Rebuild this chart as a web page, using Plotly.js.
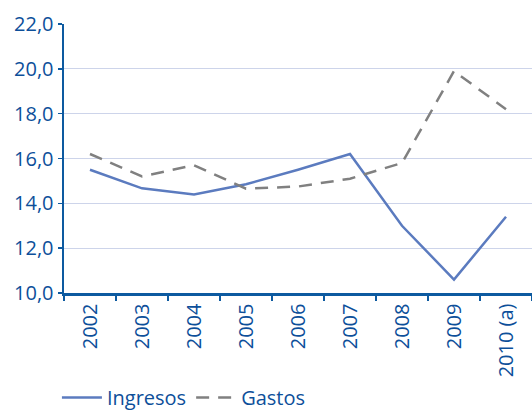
<!DOCTYPE html>
<html><head><meta charset="utf-8">
<script src="https://cdn.plot.ly/plotly-3.0.1.min.js"></script>
<style>html,body{margin:0;padding:0;background:#fff}#chart{width:532px;height:412px}</style>
</head><body><div id="chart"></div>
<script>
const years = ['2002','2003','2004','2005','2006','2007','2008','2009','2010 (a)'];
const ingresos = [15.5, 14.67, 14.4, 14.85, 15.5, 16.2, 13.0, 10.6, 13.4];
const gastos = [16.2, 15.2, 15.7, 14.65, 14.75, 15.1, 15.8, 19.9, 18.2];
const yTicks = [10, 12, 14, 16, 18, 20, 22];

const txt = '#0d4f9a', axisCol = '#0d5aa0';
const data = [
  {x: years, y: ingresos, name: 'Ingresos', type: 'scatter', mode: 'lines',
   line: {color: '#5b7bbf', width: 2.5}},
  {x: years, y: gastos, name: 'Gastos', type: 'scatter', mode: 'lines',
   line: {color: '#808080', width: 2.5, dash: '13px,9px'}}
];
const layout = {
  width: 532, height: 412,
  margin: {l: 64, r: 0, t: 24, b: 119},
  paper_bgcolor: '#fff', plot_bgcolor: '#fff',
  separators: ',.',
  font: {family: 'Open Sans, sans-serif', color: txt, size: 20},
  showlegend: true,
  legend: {orientation: 'h', xref: 'container', yref: 'container',
           x: 0.107, xanchor: 'left', y: 0.035, yanchor: 'middle',
           font: {size: 20, color: txt}, itemwidth: 40, tracegroupgap: 0},
  xaxis: {type: 'category', range: [-0.5, 8.5], tickson: 'boundaries', automargin: false,
          ticks: 'outside', ticklen: 5, tickwidth: 1.5, tickcolor: axisCol,
          showline: true, linecolor: axisCol, linewidth: 2.5, showgrid: false,
          tickangle: -90, tickfont: {size: 20, color: txt}, zeroline: false},
  yaxis: {range: [10, 22], tickvals: yTicks, tickformat: '.1f', automargin: false,
          ticks: 'outside', ticklen: 4, tickwidth: 1.5, tickcolor: axisCol,
          showline: true, linecolor: axisCol, linewidth: 2.5,
          showgrid: true, gridcolor: '#cdd4ea', gridwidth: 1.2,
          tickfont: {size: 20, color: txt}, zeroline: false}
};
Plotly.newPlot('chart', data, layout, {displayModeBar: false, staticPlot: true});
</script></body></html>
